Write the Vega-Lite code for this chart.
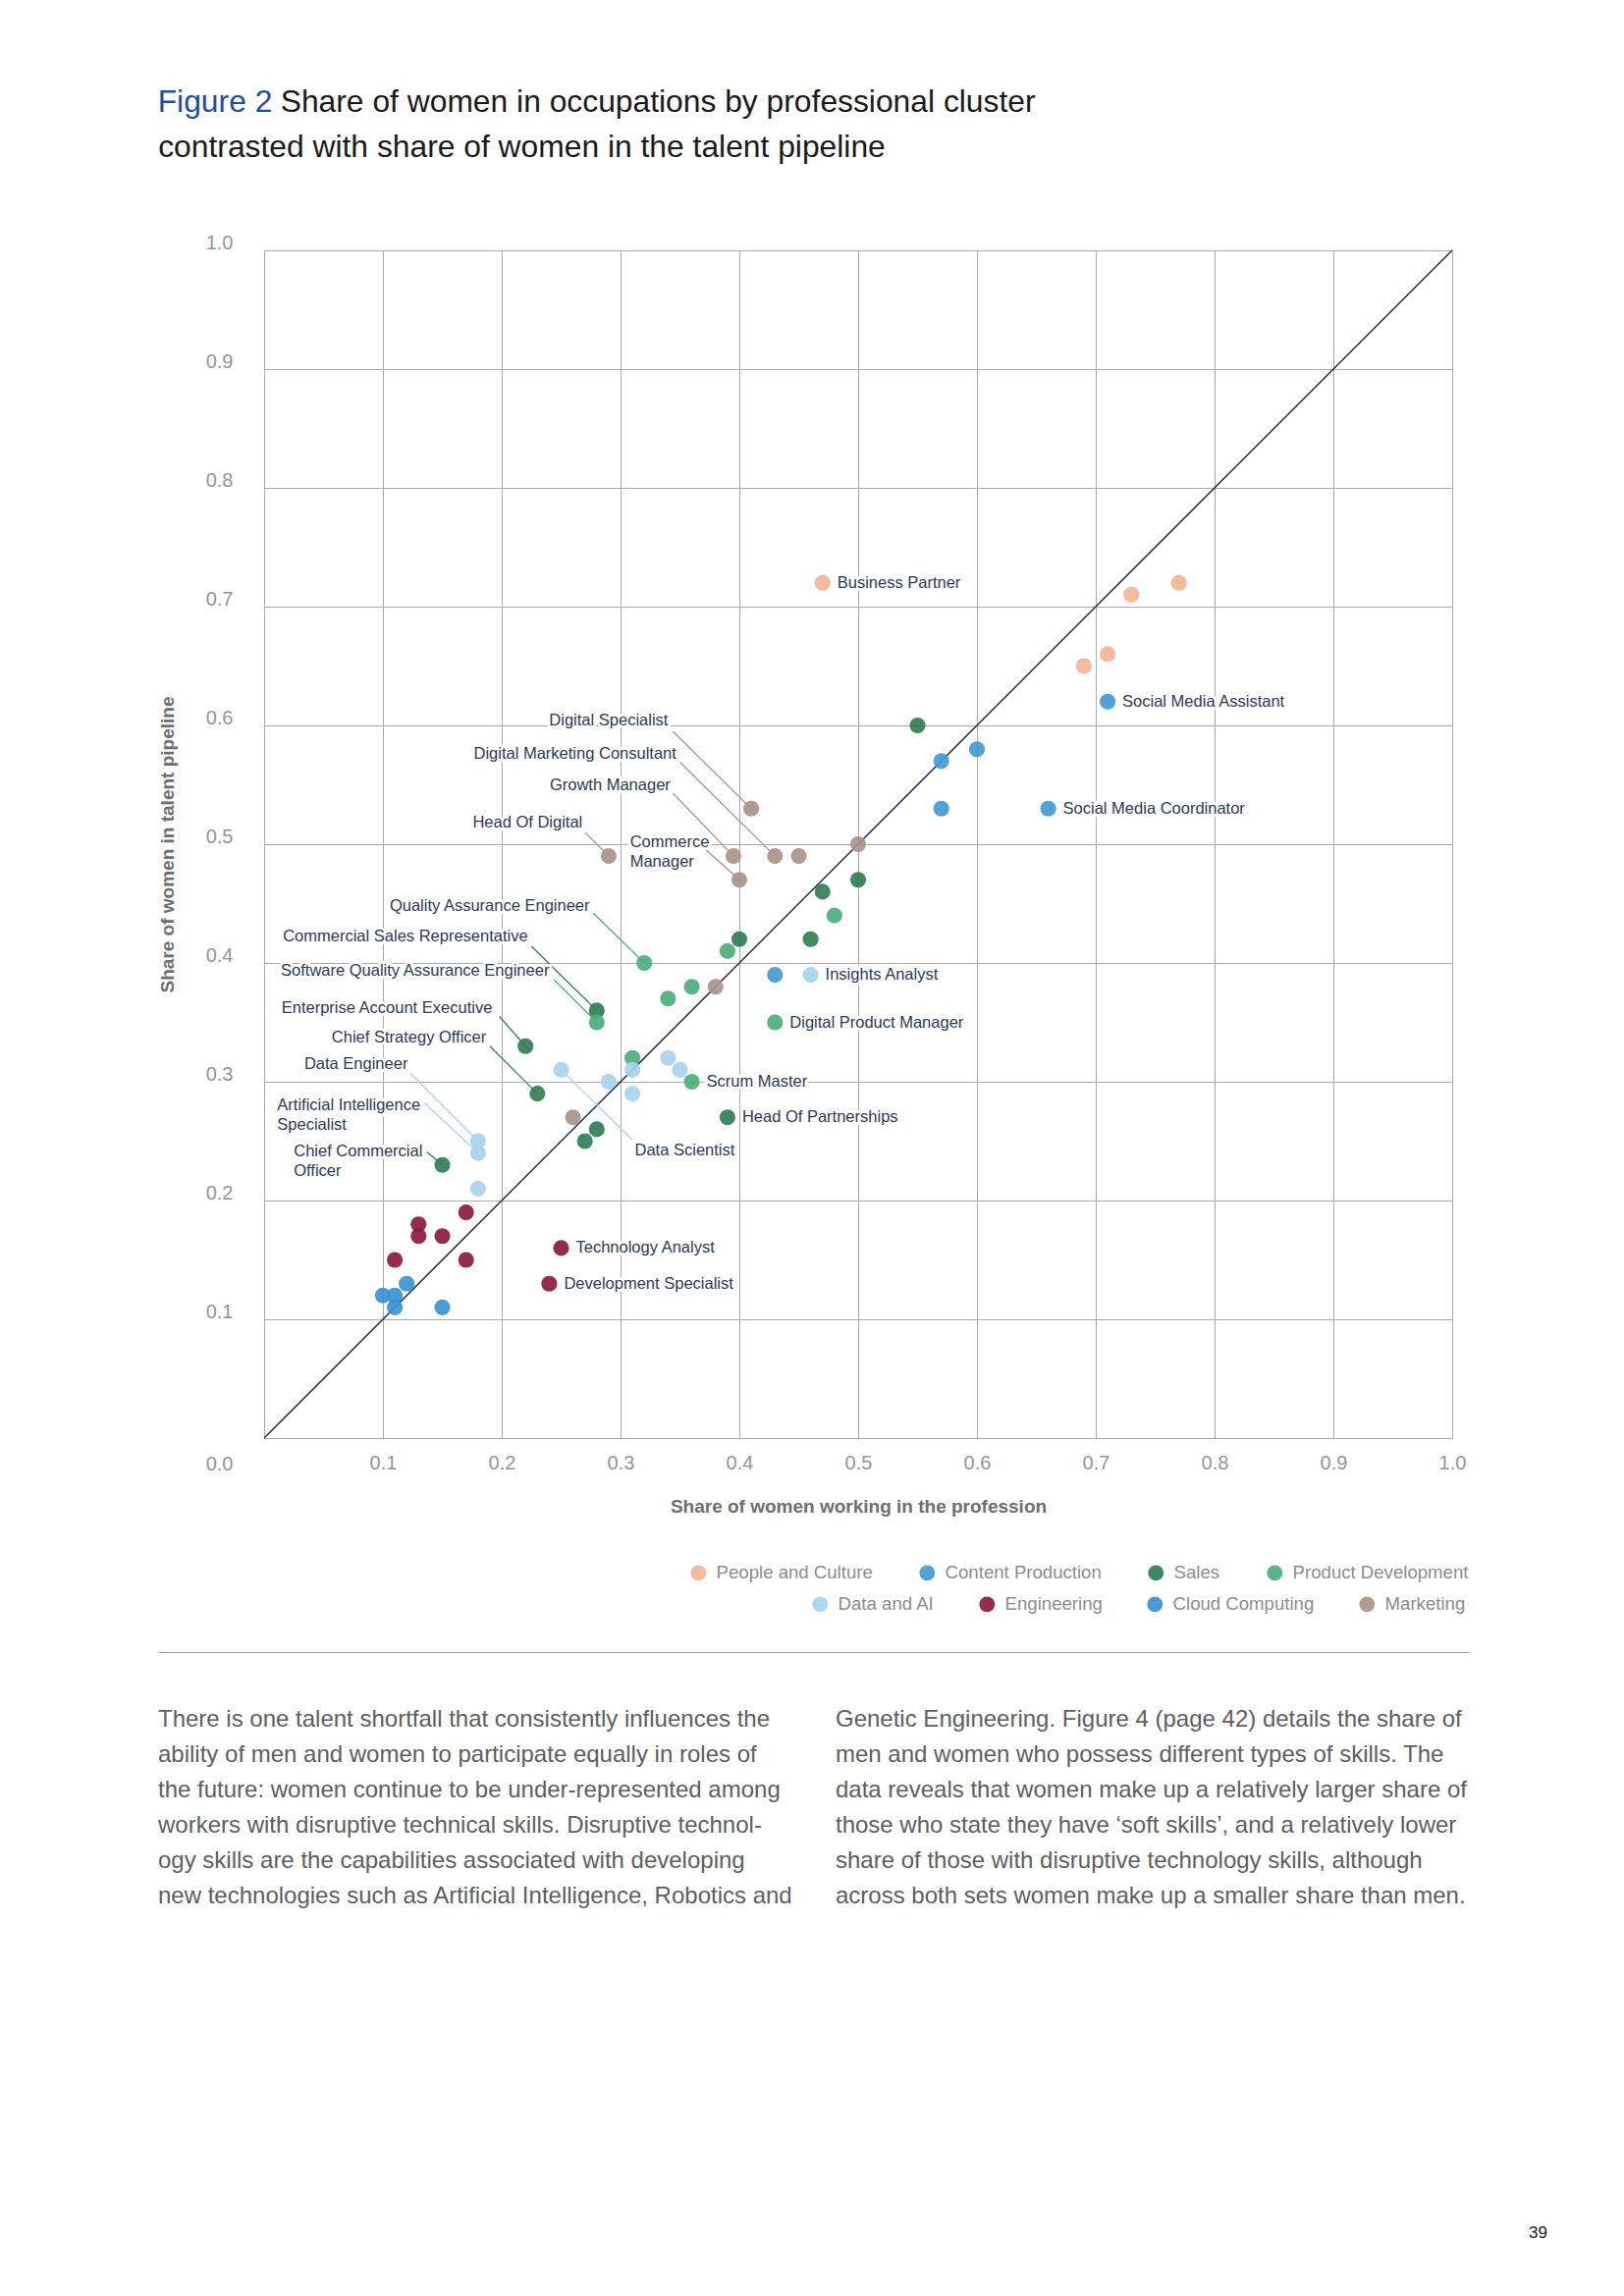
{
  "$schema": "https://vega.github.io/schema/vega-lite/v6.json",
  "background": "white",
  "padding": {"left": 160, "top": 88, "right": 10, "bottom": 10},
  "config": {
    "font": "Liberation Sans",
    "view": {"stroke": "#ABABAB", "strokeWidth": 1},
    "title": {"font": "Liberation Sans", "fontWeight": "normal", "fontSize": 31.8, "color": "#1A1A1A", "anchor": "start"},
    "text": {"font": "Liberation Sans"},
    "legend": {"labelFont": "Liberation Sans"}
  },
  "datasets": {
    "diagonal": [{"v": 0}, {"v": 1}],
    "points": [
      {"cluster": "People and Culture", "working": 0.47, "pipeline": 0.72, "label": "Business Partner"},
      {"cluster": "People and Culture", "working": 0.73, "pipeline": 0.71},
      {"cluster": "People and Culture", "working": 0.77, "pipeline": 0.72},
      {"cluster": "People and Culture", "working": 0.71, "pipeline": 0.66},
      {"cluster": "People and Culture", "working": 0.69, "pipeline": 0.65},
      {"cluster": "Content Production", "working": 0.71, "pipeline": 0.62, "label": "Social Media Assistant"},
      {"cluster": "Content Production", "working": 0.66, "pipeline": 0.53, "label": "Social Media Coordinator"},
      {"cluster": "Content Production", "working": 0.60, "pipeline": 0.58},
      {"cluster": "Content Production", "working": 0.57, "pipeline": 0.57},
      {"cluster": "Content Production", "working": 0.57, "pipeline": 0.53},
      {"cluster": "Content Production", "working": 0.43, "pipeline": 0.39},
      {"cluster": "Sales", "working": 0.55, "pipeline": 0.60},
      {"cluster": "Sales", "working": 0.50, "pipeline": 0.47},
      {"cluster": "Sales", "working": 0.47, "pipeline": 0.46},
      {"cluster": "Sales", "working": 0.46, "pipeline": 0.42},
      {"cluster": "Sales", "working": 0.40, "pipeline": 0.42},
      {"cluster": "Sales", "working": 0.28, "pipeline": 0.36},
      {"cluster": "Sales", "working": 0.22, "pipeline": 0.33},
      {"cluster": "Sales", "working": 0.23, "pipeline": 0.29},
      {"cluster": "Sales", "working": 0.28, "pipeline": 0.26},
      {"cluster": "Sales", "working": 0.27, "pipeline": 0.25},
      {"cluster": "Sales", "working": 0.39, "pipeline": 0.27, "label": "Head Of Partnerships"},
      {"cluster": "Sales", "working": 0.15, "pipeline": 0.23},
      {"cluster": "Product Development", "working": 0.48, "pipeline": 0.44},
      {"cluster": "Product Development", "working": 0.39, "pipeline": 0.41},
      {"cluster": "Product Development", "working": 0.32, "pipeline": 0.40},
      {"cluster": "Product Development", "working": 0.36, "pipeline": 0.38},
      {"cluster": "Product Development", "working": 0.34, "pipeline": 0.37},
      {"cluster": "Product Development", "working": 0.28, "pipeline": 0.35},
      {"cluster": "Product Development", "working": 0.43, "pipeline": 0.35, "label": "Digital Product Manager"},
      {"cluster": "Product Development", "working": 0.31, "pipeline": 0.32},
      {"cluster": "Product Development", "working": 0.36, "pipeline": 0.30, "label": "Scrum Master"},
      {"cluster": "Data and AI", "working": 0.25, "pipeline": 0.31},
      {"cluster": "Data and AI", "working": 0.29, "pipeline": 0.30},
      {"cluster": "Data and AI", "working": 0.31, "pipeline": 0.31},
      {"cluster": "Data and AI", "working": 0.31, "pipeline": 0.29},
      {"cluster": "Data and AI", "working": 0.34, "pipeline": 0.32},
      {"cluster": "Data and AI", "working": 0.35, "pipeline": 0.31},
      {"cluster": "Data and AI", "working": 0.46, "pipeline": 0.39, "label": "Insights Analyst"},
      {"cluster": "Data and AI", "working": 0.18, "pipeline": 0.25},
      {"cluster": "Data and AI", "working": 0.18, "pipeline": 0.24},
      {"cluster": "Data and AI", "working": 0.18, "pipeline": 0.21},
      {"cluster": "Engineering", "working": 0.17, "pipeline": 0.19},
      {"cluster": "Engineering", "working": 0.13, "pipeline": 0.18},
      {"cluster": "Engineering", "working": 0.13, "pipeline": 0.17},
      {"cluster": "Engineering", "working": 0.15, "pipeline": 0.17},
      {"cluster": "Engineering", "working": 0.11, "pipeline": 0.15},
      {"cluster": "Engineering", "working": 0.17, "pipeline": 0.15},
      {"cluster": "Engineering", "working": 0.25, "pipeline": 0.16, "label": "Technology Analyst"},
      {"cluster": "Engineering", "working": 0.24, "pipeline": 0.13, "label": "Development Specialist"},
      {"cluster": "Cloud Computing", "working": 0.10, "pipeline": 0.12},
      {"cluster": "Cloud Computing", "working": 0.11, "pipeline": 0.12},
      {"cluster": "Cloud Computing", "working": 0.11, "pipeline": 0.11},
      {"cluster": "Cloud Computing", "working": 0.12, "pipeline": 0.13},
      {"cluster": "Cloud Computing", "working": 0.15, "pipeline": 0.11},
      {"cluster": "Marketing", "working": 0.41, "pipeline": 0.53},
      {"cluster": "Marketing", "working": 0.29, "pipeline": 0.49},
      {"cluster": "Marketing", "working": 0.395, "pipeline": 0.49},
      {"cluster": "Marketing", "working": 0.43, "pipeline": 0.49},
      {"cluster": "Marketing", "working": 0.45, "pipeline": 0.49},
      {"cluster": "Marketing", "working": 0.40, "pipeline": 0.47},
      {"cluster": "Marketing", "working": 0.50, "pipeline": 0.50},
      {"cluster": "Marketing", "working": 0.38, "pipeline": 0.38},
      {"cluster": "Marketing", "working": 0.26, "pipeline": 0.27}
    ],
    "annotations": [
      {"label": "Digital Specialist", "cluster": "Marketing", "side": "end", "lx": 0.340, "ly": 0.604, "sx": 0.344, "sy": 0.595, "px": 0.41, "py": 0.53},
      {"label": "Digital Marketing Consultant", "cluster": "Marketing", "side": "end", "lx": 0.347, "ly": 0.576, "sx": 0.350, "sy": 0.569, "px": 0.43, "py": 0.49},
      {"label": "Growth Manager", "cluster": "Marketing", "side": "end", "lx": 0.342, "ly": 0.550, "sx": 0.344, "sy": 0.543, "px": 0.395, "py": 0.49},
      {"label": "Head Of Digital", "cluster": "Marketing", "side": "end", "lx": 0.268, "ly": 0.518, "sx": 0.270, "sy": 0.510, "px": 0.29, "py": 0.49},
      {"label": "Commerce\nManager", "cluster": "Marketing", "side": "start", "lx": 0.308, "ly": 0.502, "sx": 0.371, "sy": 0.496, "px": 0.40, "py": 0.47},
      {"label": "Quality Assurance Engineer", "cluster": "Product Development", "side": "end", "lx": 0.274, "ly": 0.448, "sx": 0.277, "sy": 0.442, "px": 0.32, "py": 0.40},
      {"label": "Commercial Sales Representative", "cluster": "Sales", "side": "end", "lx": 0.222, "ly": 0.422, "sx": 0.225, "sy": 0.414, "px": 0.28, "py": 0.36},
      {"label": "Software Quality Assurance Engineer", "cluster": "Product Development", "side": "end", "lx": 0.240, "ly": 0.393, "sx": 0.244, "sy": 0.386, "px": 0.28, "py": 0.35},
      {"label": "Enterprise Account Executive", "cluster": "Sales", "side": "end", "lx": 0.192, "ly": 0.362, "sx": 0.198, "sy": 0.355, "px": 0.22, "py": 0.33},
      {"label": "Chief Strategy Officer", "cluster": "Sales", "side": "end", "lx": 0.187, "ly": 0.337, "sx": 0.190, "sy": 0.330, "px": 0.23, "py": 0.29},
      {"label": "Data Engineer", "cluster": "Data and AI", "side": "end", "lx": 0.121, "ly": 0.315, "sx": 0.123, "sy": 0.307, "px": 0.18, "py": 0.25},
      {"label": "Artificial Intelligence\nSpecialist", "cluster": "Data and AI", "side": "start", "lx": 0.011, "ly": 0.280, "sx": 0.135, "sy": 0.282, "px": 0.18, "py": 0.24},
      {"label": "Chief Commercial\nOfficer", "cluster": "Sales", "side": "start", "lx": 0.025, "ly": 0.241, "sx": 0.137, "sy": 0.241, "px": 0.15, "py": 0.23},
      {"label": "Data Scientist", "cluster": "Data and AI", "side": "start", "lx": 0.312, "ly": 0.242, "sx": 0.310, "sy": 0.251, "px": 0.25, "py": 0.31}
    ],
    "body": [
      {"column": 1, "line": 1, "text": "There is one talent shortfall that consistently influences the"},
      {"column": 1, "line": 2, "text": "ability of men and women to participate equally in roles of"},
      {"column": 1, "line": 3, "text": "the future: women continue to be under-represented among"},
      {"column": 1, "line": 4, "text": "workers with disruptive  technical skills. Disruptive technol-"},
      {"column": 1, "line": 5, "text": "ogy skills are the capabilities associated with developing"},
      {"column": 1, "line": 6, "text": "new technologies such as Artificial Intelligence, Robotics and"},
      {"column": 2, "line": 1, "text": "Genetic Engineering. Figure 4 (page 42) details the share of"},
      {"column": 2, "line": 2, "text": "men and women who possess different types of skills. The"},
      {"column": 2, "line": 3, "text": "data reveals that women make up a  relatively larger share of"},
      {"column": 2, "line": 4, "text": "those who state they have ‘soft skills’, and a relatively lower"},
      {"column": 2, "line": 5, "text": "share of those with disruptive technology skills, although"},
      {"column": 2, "line": 6, "text": "across both sets women make up a smaller share than men."}
    ]
  },
  "title": {"text": "Figure 2", "color": "#1E4D9D", "frame": "bounds", "offset": 0, "dy": 32},
  "vconcat": [
    {
      "title": {"text": "Share of women in occupations by professional cluster", "frame": "bounds", "dx": 125, "offset": 14},
      "bounds": "full",
      "spacing": 138,
      "vconcat": [
        {
          "width": 1210,
          "height": 1210,
          "title": {"text": "contrasted with share of women in the talent pipeline", "frame": "bounds", "offset": 70},
          "layer": [
            {
              "data": {"name": "diagonal"},
              "mark": {"type": "line", "color": "#1B2A4A", "strokeWidth": 1.5},
              "encoding": {
                "x": {
                  "field": "v", "type": "quantitative",
                  "scale": {"domain": [0, 1], "nice": false, "zero": false},
                  "axis": {
                    "title": "Share of women working in the profession",
                    "values": [0.1, 0.2, 0.3, 0.4, 0.5, 0.6, 0.7, 0.8, 0.9, 1.0],
                    "format": ".1f", "grid": true, "gridColor": "#ABABAB", "gridWidth": 1,
                    "domain": false, "ticks": false, "labelFlush": false, "labelOverlap": false,
                    "labelFontSize": 20, "labelColor": "#959595", "labelPadding": 15,
                    "titleFontSize": 19, "titleFontWeight": "bold", "titleColor": "#6E6E6E", "titlePadding": 25
                  }
                },
                "y": {
                  "field": "v", "type": "quantitative",
                  "scale": {"domain": [0, 1], "nice": false, "zero": false},
                  "axis": {
                    "title": "Share of women in talent pipeline",
                    "values": [0, 0.1, 0.2, 0.3, 0.4, 0.5, 0.6, 0.7, 0.8, 0.9, 1.0],
                    "format": ".1f", "grid": true, "gridColor": "#ABABAB", "gridWidth": 1,
                    "domain": false, "ticks": false, "labelFlush": false, "labelOverlap": false,
                    "labelFontSize": 20, "labelColor": "#959595", "labelPadding": 32,
                    "labelOffset": {"condition": {"test": "datum.value === 0", "value": 26}, "value": -8},
                    "titleFontSize": 19, "titleFontWeight": "bold", "titleColor": "#6E6E6E", "titlePadding": 29
                  }
                }
              }
            },
            {
              "data": {"name": "annotations"},
              "transform": [{"filter": {"field": "cluster", "oneOf": ["People and Culture", "Content Production", "Sales", "Product Development"]}}],
              "mark": {"type": "rule", "strokeWidth": 1.3},
              "encoding": {
                "x": {"field": "sx", "type": "quantitative"},
                "y": {"field": "sy", "type": "quantitative"},
                "x2": {"field": "px"},
                "y2": {"field": "py"},
                "color": {"field": "cluster", "type": "nominal",
                  "scale": {"domain": ["People and Culture", "Content Production", "Sales", "Product Development"], "range": ["#F4B496", "#439AD4", "#2F7E55", "#4DAE7B"]}}
              }
            },
            {
              "data": {"name": "annotations"},
              "transform": [{"filter": {"field": "cluster", "oneOf": ["Data and AI", "Engineering", "Cloud Computing", "Marketing"]}}],
              "mark": {"type": "rule", "strokeWidth": 1.3},
              "encoding": {
                "x": {"field": "sx", "type": "quantitative"},
                "y": {"field": "sy", "type": "quantitative"},
                "x2": {"field": "px"},
                "y2": {"field": "py"},
                "stroke": {"field": "cluster", "type": "nominal",
                  "scale": {"domain": ["Data and AI", "Engineering", "Cloud Computing", "Marketing"], "range": ["#A7D4EE", "#8B1A3F", "#3B93D0", "#A8958B"]}}
              }
            },
            {
              "data": {"name": "annotations"},
              "transform": [{"filter": "datum.side === 'end'"}],
              "mark": {"type": "text", "align": "right", "baseline": "middle", "fontSize": 16.5, "lineBreak": "\n", "lineHeight": 20, "color": "white", "stroke": "white", "strokeWidth": 6, "strokeJoin": "round"},
              "encoding": {
                "x": {"field": "lx", "type": "quantitative"},
                "y": {"field": "ly", "type": "quantitative"},
                "text": {"field": "label"}
              }
            },
            {
              "data": {"name": "annotations"},
              "transform": [{"filter": "datum.side === 'start'"}],
              "mark": {"type": "text", "align": "left", "baseline": "middle", "fontSize": 16.5, "lineBreak": "\n", "lineHeight": 20, "color": "white", "stroke": "white", "strokeWidth": 6, "strokeJoin": "round"},
              "encoding": {
                "x": {"field": "lx", "type": "quantitative"},
                "y": {"field": "ly", "type": "quantitative"},
                "text": {"field": "label"}
              }
            },
            {
              "data": {"name": "points"},
              "transform": [{"filter": "isValid(datum.label)"}],
              "mark": {"type": "text", "align": "left", "baseline": "middle", "dx": 15, "fontSize": 16.5, "color": "white", "stroke": "white", "strokeWidth": 6, "strokeJoin": "round"},
              "encoding": {
                "x": {"field": "working", "type": "quantitative"},
                "y": {"field": "pipeline", "type": "quantitative"},
                "text": {"field": "label"}
              }
            },
            {
              "data": {"name": "points"},
              "transform": [{"filter": {"field": "cluster", "oneOf": ["People and Culture", "Content Production", "Sales", "Product Development"]}}],
              "mark": {"type": "point", "filled": true, "size": 260, "opacity": 0.92, "strokeWidth": 0},
              "encoding": {
                "x": {"field": "working", "type": "quantitative"},
                "y": {"field": "pipeline", "type": "quantitative"},
                "color": {"field": "cluster", "type": "nominal",
                  "scale": {"domain": ["People and Culture", "Content Production", "Sales", "Product Development"], "range": ["#F4B496", "#439AD4", "#2F7E55", "#4DAE7B"]},
                  "legend": {"title": null, "orient": "none", "legendX": 433, "legendY": 1338, "direction": "horizontal", "columns": 4,
                    "symbolType": "circle", "symbolSize": 254, "symbolOpacity": 0.92, "symbolStrokeWidth": 0,
                    "labelFontSize": 18.6, "labelColor": "#8C8C8C", "labelOffset": 9, "columnPadding": 46, "padding": 0, "labelLimit": 400}}
              }
            },
            {
              "data": {"name": "points"},
              "transform": [{"filter": {"field": "cluster", "oneOf": ["Data and AI", "Engineering", "Cloud Computing", "Marketing"]}}],
              "mark": {"type": "point", "filled": true, "size": 260, "opacity": 0.92, "strokeWidth": 0},
              "encoding": {
                "x": {"field": "working", "type": "quantitative"},
                "y": {"field": "pipeline", "type": "quantitative"},
                "fill": {"field": "cluster", "type": "nominal",
                  "scale": {"domain": ["Data and AI", "Engineering", "Cloud Computing", "Marketing"], "range": ["#A7D4EE", "#8B1A3F", "#3B93D0", "#A8958B"]},
                  "legend": {"title": null, "orient": "none", "legendX": 557, "legendY": 1370, "direction": "horizontal", "columns": 4,
                    "symbolType": "circle", "symbolSize": 254, "symbolOpacity": 0.92, "symbolStrokeWidth": 0,
                    "labelFontSize": 18.6, "labelColor": "#8C8C8C", "labelOffset": 9, "columnPadding": 44, "padding": 0, "labelLimit": 400}}
              }
            },
            {
              "data": {"name": "annotations"},
              "transform": [{"filter": "datum.side === 'end'"}],
              "mark": {"type": "text", "align": "right", "baseline": "middle", "fontSize": 16.5, "lineBreak": "\n", "lineHeight": 20, "color": "#2B3A57"},
              "encoding": {
                "x": {"field": "lx", "type": "quantitative"},
                "y": {"field": "ly", "type": "quantitative"},
                "text": {"field": "label"}
              }
            },
            {
              "data": {"name": "annotations"},
              "transform": [{"filter": "datum.side === 'start'"}],
              "mark": {"type": "text", "align": "left", "baseline": "middle", "fontSize": 16.5, "lineBreak": "\n", "lineHeight": 20, "color": "#2B3A57"},
              "encoding": {
                "x": {"field": "lx", "type": "quantitative"},
                "y": {"field": "ly", "type": "quantitative"},
                "text": {"field": "label"}
              }
            },
            {
              "data": {"name": "points"},
              "transform": [{"filter": "isValid(datum.label)"}],
              "mark": {"type": "text", "align": "left", "baseline": "middle", "dx": 15, "fontSize": 16.5, "color": "#2B3A57"},
              "encoding": {
                "x": {"field": "working", "type": "quantitative"},
                "y": {"field": "pipeline", "type": "quantitative"},
                "text": {"field": "label"}
              }
            }
          ]
        },
        {
          "width": 1227,
          "height": 312,
          "view": {"stroke": null},
          "data": {"name": "body"},
          "title": {"text": "39", "orient": "bottom", "anchor": "end", "frame": "group", "fontSize": 17, "color": "#1A1A1A", "offset": 272, "dx": 80},
          "mark": {"type": "text", "align": "left", "baseline": "middle", "fontSize": 24, "color": "#5E5E5E"},
          "encoding": {
            "x": {"field": "column", "type": "ordinal", "bandPosition": 0,
              "scale": {"type": "band", "range": [-108, 1227], "paddingInner": 0.0652, "paddingOuter": 0},
              "axis": {"orient": "top", "domain": true, "domainColor": "#9B9B9B", "domainWidth": 1.2, "labels": false, "ticks": false, "grid": false, "title": null}},
            "y": {"field": "line", "type": "ordinal", "scale": {"type": "point", "range": [69, 249], "padding": 0}, "axis": null},
            "text": {"field": "text"}
          }
        }
      ]
    }
  ]
}
